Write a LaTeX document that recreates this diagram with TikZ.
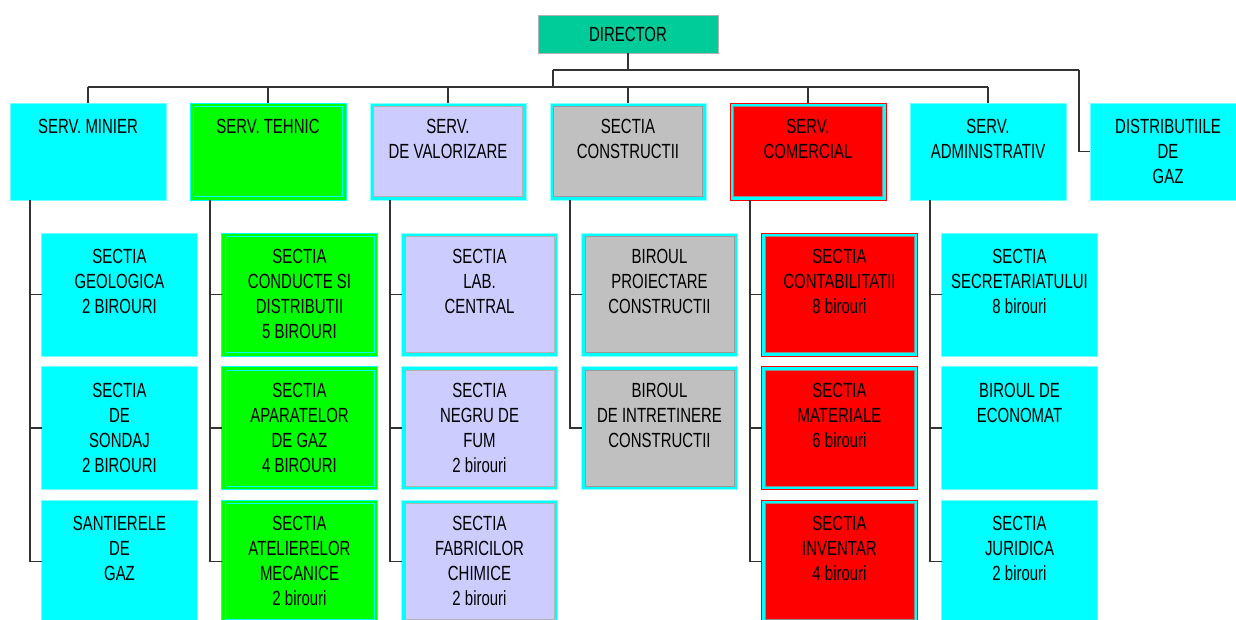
\documentclass[tikz,border=0pt]{standalone}
\usepackage{fontspec}
\setmainfont{Liberation Sans}[FakeStretch=0.73]
\usepackage{xcolor}
\usepackage{tikz}
\definecolor{aqua}{HTML}{00FFFF}
\definecolor{lgreen}{HTML}{00FF00}
\definecolor{lilac}{HTML}{CCCCFF}
\definecolor{silver}{HTML}{C0C0C0}
\definecolor{boxred}{HTML}{FF0000}
\definecolor{dirgreen}{HTML}{00CC99}
\tikzset{
  framed/.style n args={4}{
    fill=#2, draw=#1, line width=0.8pt,
    path picture={\draw[line width=0.8pt, draw=#3, fill=#4]
      ([shift={(3.5pt,3.5pt)}]path picture bounding box.south west) rectangle
      ([shift={(-3.5pt,-3.5pt)}]path picture bounding box.north east);},
  },
  style cyan/.style={fill=aqua, draw=aqua!55!white, line width=0.6pt},
  style green/.style={framed={aqua}{lgreen}{aqua}{lgreen}},
  style lilac/.style={framed={aqua!45!white}{aqua}{gray!60}{lilac}},
  style grey/.style={framed={aqua!45!white}{aqua}{gray!80}{silver}},
  style red/.style={framed={boxred}{aqua}{gray!90}{boxred}},
  style director/.style={fill=dirgreen, draw=gray!60, line width=0.8pt,
    minimum width=180pt, minimum height=38pt},
  unit/.style={anchor=north west, minimum width=156pt, minimum height=123pt,
    inner sep=0pt, outer sep=0pt},
  head/.style={unit, minimum height=97pt},
  txt/.style={anchor=north, align=center, inner sep=0pt, yshift=-16pt, text=black},
  wire/.style={draw=black!80, line width=1.2pt}
}
\begin{document}
\begin{tikzpicture}[x=1pt, y=-1pt, font=\fontsize{20.5}{25}\selectfont]
\useasboundingbox (0,0) rectangle (1236,619);

\node[style director] (dir) at (628,34) {DIRECTOR};

% services
\node[head, style cyan,  label={[txt]north:SERV. MINIER}] (minier) at (10,103) {};
\node[head, style green, label={[txt]north:SERV. TEHNIC}] (tehnic) at (190,103) {};
\node[head, style lilac, label={[txt]north:{SERV.\\DE VALORIZARE}}] (valorizare) at (370,103) {};
\node[head, style grey,  label={[txt]north:{SECTIA\\CONSTRUCTII}}] (constructii) at (550,103) {};
\node[head, style red,   label={[txt]north:{SERV.\\COMERCIAL}}] (comercial) at (730,103) {};
\node[head, style cyan,  label={[txt]north:{SERV.\\ADMINISTRATIV}}] (admin) at (910,103) {};
\node[head, style cyan,  label={[txt]north:{DISTRIBUTIILE\\DE\\GAZ}}] (distrib) at (1090,103) {};

% sections
\node[unit, style cyan, label={[txt]north:{SECTIA\\GEOLOGICA\\2 BIROURI}}] (geologica) at (41.5,233) {};
\node[unit, style cyan, label={[txt]north:{SECTIA\\DE\\SONDAJ\\2 BIROURI}}] (sondaj) at (41.5,366.5) {};
\node[unit, style cyan, label={[txt]north:{SANTIERELE\\DE\\GAZ}}] (santiere) at (41.5,500) {};

\node[unit, style green, label={[txt]north:{SECTIA\\CONDUCTE SI\\DISTRIBUTII\\5 BIROURI}}] (conducte) at (221.5,233) {};
\node[unit, style green, label={[txt]north:{SECTIA\\APARATELOR\\DE GAZ\\4 BIROURI}}] (aparate) at (221.5,366.5) {};
\node[unit, style green, label={[txt]north:{SECTIA\\ATELIERELOR\\MECANICE\\2 birouri}}] (ateliere) at (221.5,500) {};

\node[unit, style lilac, label={[txt]north:{SECTIA\\LAB.\\CENTRAL}}] (lab) at (401.5,233) {};
\node[unit, style lilac, label={[txt]north:{SECTIA\\NEGRU DE\\FUM\\2 birouri}}] (negru) at (401.5,366.5) {};
\node[unit, style lilac, label={[txt]north:{SECTIA\\FABRICILOR\\CHIMICE\\2 birouri}}] (fabrici) at (401.5,500) {};

\node[unit, style grey, label={[txt]north:{BIROUL\\PROIECTARE\\CONSTRUCTII}}] (proiectare) at (581.5,233) {};
\node[unit, style grey, label={[txt]north:{BIROUL\\DE INTRETINERE\\CONSTRUCTII}}] (intretinere) at (581.5,366.5) {};

\node[unit, style red, label={[txt]north:{SECTIA\\CONTABILITATII\\8 birouri}}] (contab) at (761.5,233) {};
\node[unit, style red, label={[txt]north:{SECTIA\\MATERIALE\\6 birouri}}] (materiale) at (761.5,366.5) {};
\node[unit, style red, label={[txt]north:{SECTIA\\INVENTAR\\4 birouri}}] (inventar) at (761.5,500) {};

\node[unit, style cyan, label={[txt]north:{SECTIA\\SECRETARIATULUI\\8 birouri}}] (secretariat) at (941.5,233) {};
\node[unit, style cyan, label={[txt]north:{BIROUL DE\\ECONOMAT}}] (economat) at (941.5,366.5) {};
\node[unit, style cyan, label={[txt]north:{SECTIA\\JURIDICA\\2 birouri}}] (juridica) at (941.5,500) {};

% connectors
\coordinate (bus) at (0,87);
\coordinate (fork) at (553,70);
\coordinate (side) at (1079,70);
\begin{scope}[every edge/.style={wire}]
    \path (dir.south) edge (dir.south |- fork);
    \path (fork) edge (side);
    \path (fork) edge (fork |- bus);
    \path (minier.north |- bus) edge (admin.north |- bus);

    \path (minier.north |- bus) edge (minier.north);
    \path (tehnic.north |- bus) edge (tehnic.north);
    \path (valorizare.north |- bus) edge (valorizare.north);
    \path (constructii.north |- bus) edge (constructii.north);
    \path (comercial.north |- bus) edge (comercial.north);
    \path (admin.north |- bus) edge (admin.north);
\end{scope}
\draw[wire] (side) |- (distrib.west);

\draw[wire] ([xshift=20pt]minier.south west) |- (geologica.west);
\draw[wire] ([xshift=20pt]minier.south west) |- (sondaj.west);
\draw[wire] ([xshift=20pt]minier.south west) |- (santiere.west);

\draw[wire] ([xshift=20pt]tehnic.south west) |- (conducte.west);
\draw[wire] ([xshift=20pt]tehnic.south west) |- (aparate.west);
\draw[wire] ([xshift=20pt]tehnic.south west) |- (ateliere.west);

\draw[wire] ([xshift=20pt]valorizare.south west) |- (lab.west);
\draw[wire] ([xshift=20pt]valorizare.south west) |- (negru.west);
\draw[wire] ([xshift=20pt]valorizare.south west) |- (fabrici.west);

\draw[wire] ([xshift=20pt]constructii.south west) |- (proiectare.west);
\draw[wire] ([xshift=20pt]constructii.south west) |- (intretinere.west);

\draw[wire] ([xshift=20pt]comercial.south west) |- (contab.west);
\draw[wire] ([xshift=20pt]comercial.south west) |- (materiale.west);
\draw[wire] ([xshift=20pt]comercial.south west) |- (inventar.west);

\draw[wire] ([xshift=20pt]admin.south west) |- (secretariat.west);
\draw[wire] ([xshift=20pt]admin.south west) |- (economat.west);
\draw[wire] ([xshift=20pt]admin.south west) |- (juridica.west);
\end{tikzpicture}
\end{document}
